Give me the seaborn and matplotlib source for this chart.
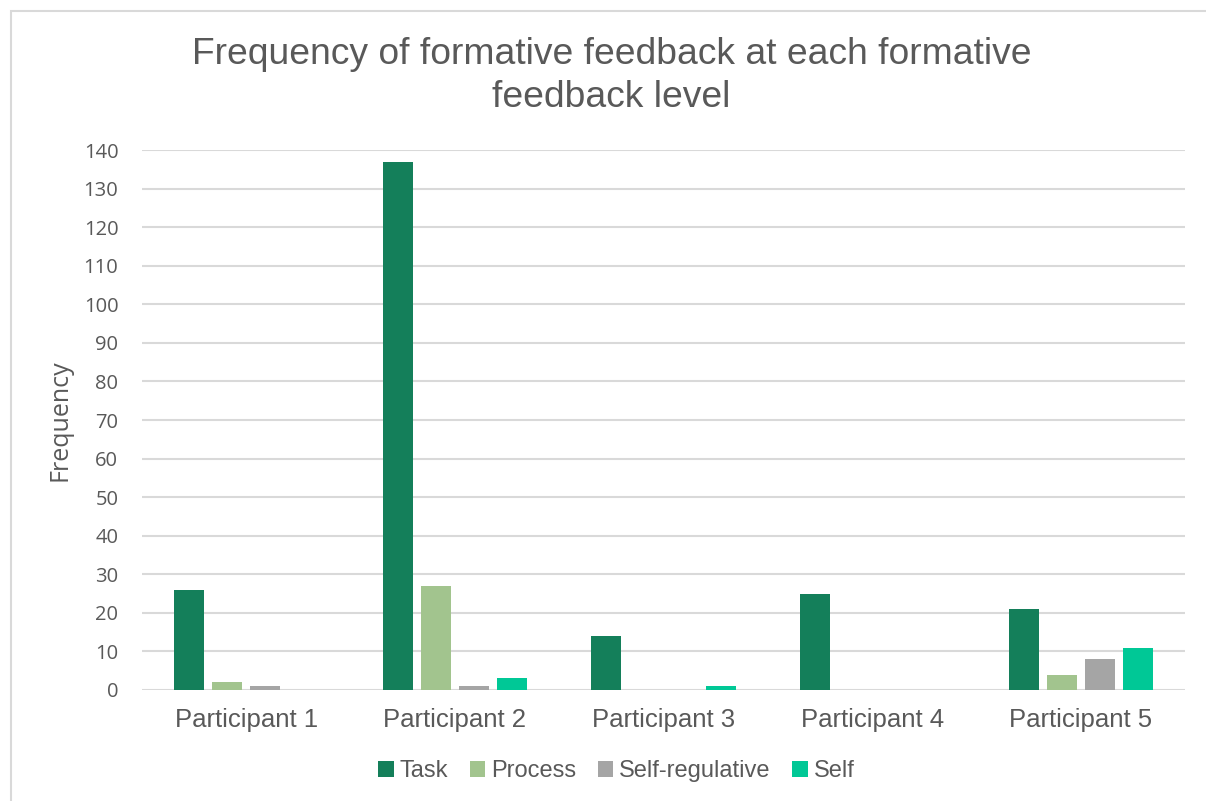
import matplotlib
matplotlib.use("Agg")
import matplotlib.pyplot as plt
from matplotlib.patches import Patch, Rectangle
import pandas as pd
import seaborn as sns

participants = ["Participant 1", "Participant 2", "Participant 3", "Participant 4", "Participant 5"]
levels = ["Task", "Process", "Self-regulative", "Self"]
task = [26, 137, 14, 25, 21]
process = [2, 27, 0, 0, 4]
self_regulative = [1, 1, 0, 0, 8]
self_level = [0, 3, 1, 0, 11]
y_ticks = list(range(0, 141, 10))

colors = ["#147F5A", "#A2C48E", "#A5A5A5", "#00C896"]
text_color = "#595959"
grid_color = "#D9D9D9"

rows = []
for lvl, vals in zip(levels, [task, process, self_regulative, self_level]):
    for p, v in zip(participants, vals):
        rows.append({"Participant": p, "Level": lvl, "Frequency": v})
df = pd.DataFrame(rows)

sns.set_theme(style="white")
plt.rcParams["font.family"] = ["Liberation Sans", "DejaVu Sans"]

fig = plt.figure(figsize=(12.06, 8.01), dpi=100)
ax = fig.add_axes([0.1177, 0.1386, 0.9826 - 0.1177, 0.8127 - 0.1386])

sns.barplot(data=df, x="Participant", y="Frequency", hue="Level",
            order=participants, hue_order=levels, palette=colors,
            saturation=1, width=0.73, gap=0.21, errorbar=None, legend=False,
            edgecolor="none", ax=ax, zorder=3)

ax.set_ylim(0, 140)
ax.set_xlim(-0.5, len(participants) - 0.5)
ax.set_yticks(y_ticks)
ax.yaxis.grid(True, color=grid_color, linewidth=1.5, zorder=0)
ax.set_axisbelow(True)
for s in ax.spines.values():
    s.set_visible(False)
ax.tick_params(axis="both", length=0)
ax.tick_params(axis="y", pad=17)
ax.tick_params(axis="x", pad=13)
for lab in ax.get_yticklabels():
    lab.set_fontfamily(["Open Sans", "DejaVu Sans"])
    lab.set_fontsize(14.5)
    lab.set_color(text_color)
for lab in ax.get_xticklabels():
    lab.set_fontsize(18.5)
    lab.set_color(text_color)

ax.set_xlabel("")
ax.set_ylabel("Frequency", fontsize=18, color=text_color,
              family=["Open Sans", "DejaVu Sans"], labelpad=8)

fig.text(0.507, 0.905, "Frequency of formative feedback at each formative\nfeedback level",
         ha="center", va="center", fontsize=26.8, color=text_color,
         linespacing=1.32)

handles = [Patch(facecolor=c, edgecolor="none", label=l) for c, l in zip(colors, levels)]
leg = fig.legend(handles=handles, loc="center", bbox_to_anchor=(0.511, 0.0375),
                 ncol=4, frameon=False, fontsize=17, handlelength=0.65,
                 handleheight=0.65, handletextpad=0.25, columnspacing=0.92)
for t in leg.get_texts():
    t.set_color(text_color)

# chart frame
fig.patches.append(Rectangle((11 / 1206, -0.05), 1.2, 1.05 - 11 / 801,
                             transform=fig.transFigure, fill=False,
                             edgecolor=grid_color, linewidth=1.5))

fig.savefig("out.png", dpi=100)
